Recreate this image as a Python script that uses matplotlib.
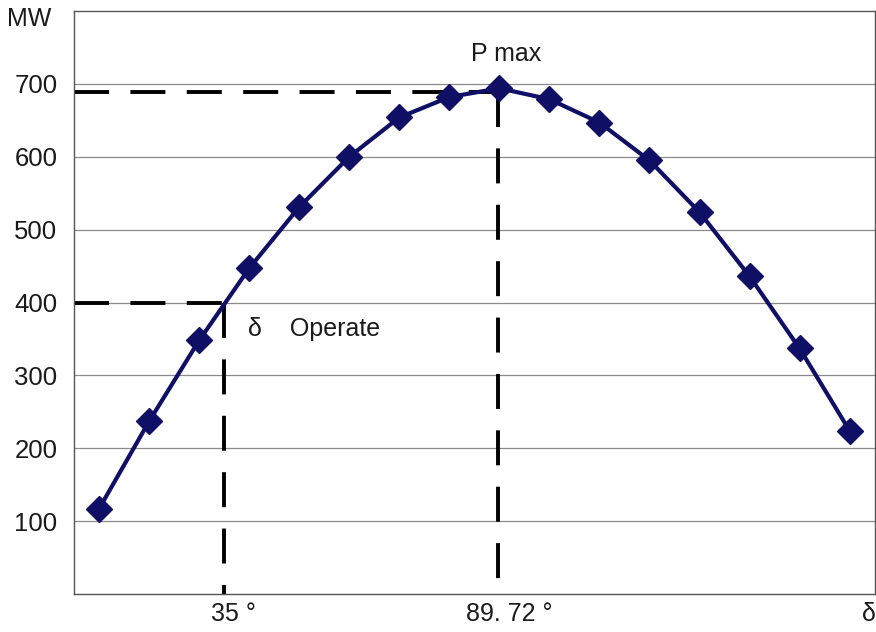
import matplotlib
matplotlib.use("Agg")
import matplotlib.pyplot as plt

plt.rcParams["font.family"] = ["Liberation Sans", "DejaVu Sans"]

# load angle (deg) and power (MW)
delta_deg = [10, 20, 30, 40, 50, 60, 70, 80, 90, 100, 110, 120, 130, 140, 150, 160]
power_mw = [117, 237, 348, 447, 531, 600, 654, 682, 694, 679, 647, 595, 524, 436, 337, 224]

y_ticks = [100, 200, 300, 400, 500, 600, 700]

p_max = 689
delta_max = 89.72
p_operate = 400
delta_operate = 35

navy = "#0f0f66"
dash = (0, (9, 5.5))
txt = "#1a1a1a"

fig = plt.figure(figsize=(8.76, 6.32), dpi=100)
ax = fig.add_axes([0.0845, 0.060, 0.914, 0.9225])

ax.set_xlim(5, 165)
ax.set_ylim(0, 800)

ax.set_yticks(y_ticks)
ax.set_yticklabels([str(v) for v in y_ticks], fontsize=18.5, color=txt)
ax.tick_params(axis="y", length=0, pad=12)
ax.set_xticks([])
ax.yaxis.grid(True, color="#8a8a8a", linewidth=0.9)
ax.set_axisbelow(True)
for side in ax.spines.values():
    side.set_color("#555555")
    side.set_linewidth(1.0)

# reference dashed lines for P max and operating point
ax.plot([5, delta_max], [p_max, p_max], color="black", linewidth=2.8, linestyle=dash, zorder=2)
ax.plot([delta_max, delta_max], [p_max, 0], color="black", linewidth=2.8, linestyle=dash, zorder=2)
ax.plot([5, delta_operate], [p_operate, p_operate], color="black", linewidth=2.8, linestyle=dash, zorder=2)
ax.plot([delta_operate, delta_operate], [p_operate, 0], color="black", linewidth=2.8, linestyle=dash, zorder=2)

ax.plot(delta_deg, power_mw, color=navy, linewidth=3, marker="D", markersize=13,
        markerfacecolor=navy, markeredgecolor=navy, zorder=3, clip_on=False)

ax.annotate("P max", xy=(delta_max, p_max), xytext=(6, 27), textcoords="offset points",
            ha="center", va="center", fontsize=18, color=txt)
ax.annotate("δ    Operate", xy=(delta_operate, p_operate), xytext=(17, -19), textcoords="offset points",
            ha="left", va="center", fontsize=18, color=txt)

trans = ("data", "axes fraction")
ax.annotate("35 °", xy=(delta_operate, 0), xycoords=trans, xytext=(7, -14),
            textcoords="offset points", ha="center", va="center", fontsize=18, color=txt)
ax.annotate("89. 72 °", xy=(delta_max, 0), xycoords=trans, xytext=(8, -14),
            textcoords="offset points", ha="center", va="center", fontsize=18, color=txt)
ax.annotate("δ", xy=(1, 0), xycoords="axes fraction", xytext=(1, -14),
            textcoords="offset points", ha="right", va="center", fontsize=18, color=txt,
            annotation_clip=False)
ax.annotate("MW", xy=(0, 1), xycoords="axes fraction", xytext=(-32, -6),
            textcoords="offset points", ha="center", va="center", fontsize=18, color=txt)

fig.savefig("out.png", dpi=100, facecolor="white")
